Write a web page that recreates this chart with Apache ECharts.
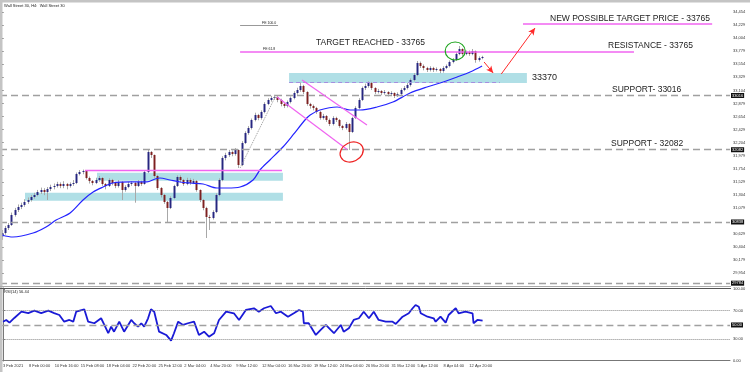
<!DOCTYPE html>
<html><head><meta charset="utf-8">
<script src="https://cdn.jsdelivr.net/npm/echarts@6/dist/echarts.min.js"></script>
<style>html,body{margin:0;padding:0;background:#fff}#c{width:750px;height:372px}</style>
</head><body><div id="c"></div>
<script>
// ---------- DATA ----------
const timeLabels = ["3 Feb 2021","8 Feb 00:00","10 Feb 16:00","15 Feb 08:00","18 Feb 04:00","22 Feb 20:00","25 Feb 12:00","2 Mar 04:00","4 Mar 20:00","9 Mar 12:00","12 Mar 04:00","16 Mar 20:00","19 Mar 12:00","24 Mar 04:00","26 Mar 20:00","31 Mar 12:00","5 Apr 12:00","8 Apr 04:00","12 Apr 20:00"];
// [open, close, low, high]
const candles = [
[30590,30648,30530,30700],[30648,30734,30620,30770],[30734,30786,30700,30820],[30786,30958,30770,31000],
[30958,31044,30930,31080],[31044,31096,31010,31140],[31096,31131,31060,31170],[31131,31182,31100,31230],
[31182,31217,31150,31260],[31217,31268,31190,31300],[31268,31303,31240,31340],[31303,31354,31280,31390],
[31354,31389,31320,31430],[31389,31354,31300,31420],[31354,31406,31217,31440],[31406,31440,31370,31480],
[31440,31458,31400,31500],[31458,31492,31430,31530],[31492,31458,31420,31520],[31458,31492,31420,31540],
[31492,31458,31400,31510],[31458,31492,31430,31520],[31492,31509,31460,31560],[31509,31664,31490,31690],
[31664,31699,31640,31733],[31699,31716,31660,31740],[31716,31595,31570,31730],[31595,31544,31500,31620],
[31544,31509,31470,31560],[31509,31561,31490,31600],[31561,31595,31530,31630],[31595,31492,31460,31610],
[31492,31458,31400,31510],[31458,31561,31440,31590],[31561,31509,31470,31580],[31509,31458,31420,31530],
[31458,31527,31430,31560],[31527,31389,31217,31540],[31389,31440,31360,31470],[31440,31492,31420,31530],
[31492,31509,31460,31540],[31509,31458,31170,31530],[31458,31527,31440,31560],[31527,31492,31460,31550],
[31492,31699,31480,31730],[31699,32043,31680,32078],[32043,31991,31940,32060],[31991,31630,31600,32000],
[31630,31423,31390,31650],[31423,31303,31260,31440],[31303,31182,31150,31320],[31182,31079,30838,31200],
[31079,31251,31060,31280],[31251,31458,31230,31480],[31458,31613,31440,31640],[31613,31561,31520,31640],
[31561,31492,31460,31580],[31492,31561,31470,31600],[31561,31509,31480,31590],[31509,31544,31490,31580],
[31544,31389,31360,31560],[31389,31217,31180,31400],[31217,31079,31040,31230],[31079,30924,30562,31100],
[30924,30907,30700,30960],[30907,31010,30880,31040],[31010,31303,30990,31330],[31303,31561,31280,31590],
[31561,31940,31540,31970],[31940,31991,31900,32030],[31991,32043,31960,32080],[32043,32009,31970,32070],
[32009,32078,31980,32110],[32078,31819,31768,32090],[31819,32198,31800,32230],[32198,32370,32180,32400],
[32370,32456,32340,32490],[32456,32594,32430,32620],[32594,32680,32570,32720],[32680,32629,32590,32700],
[32629,32732,32600,32760],[32732,32870,32710,32900],[32870,32939,32850,32970],[32939,32973,32910,33010],
[32973,32990,32940,33030],[32990,32939,32900,33010],[32939,32870,32830,32960],[32870,32835,32800,32890],
[32835,32904,32810,32930],[32904,32973,32880,33000],[32973,33059,32950,33090],[33059,33111,33030,33150],
[33111,33180,33080,33240],[33180,33076,33040,33200],[33076,32870,32840,33090],[32870,32835,32790,32890],
[32835,32801,32760,32860],[32801,32732,32700,32820],[32732,32629,32600,32750],[32629,32663,32600,32700],
[32663,32594,32560,32680],[32594,32525,32490,32620],[32525,32629,32500,32660],[32629,32594,32560,32650],
[32594,32491,32460,32610],[32491,32456,32420,32510],[32456,32525,32430,32560],[32525,32388,32078,32540],
[32388,32629,32370,32650],[32629,32801,32610,32830],[32801,32939,32780,32970],[32939,33145,32920,33170],
[33145,33180,33110,33220],[33180,33231,33150,33260],[33231,33145,33110,33250],[33145,33076,33040,33160],
[33076,33094,33050,33130],[33094,33059,33020,33110],[33059,33076,33030,33110],[33076,33042,33000,33090],
[33042,33059,33010,33090],[33059,33008,32973,33070],[33008,33042,32990,33070],[33042,33111,33020,33140],
[33111,33145,33090,33180],[33145,33197,33120,33230],[33197,33283,33170,33310],[33283,33369,33260,33400],
[33369,33576,33350,33610],[33576,33524,33490,33600],[33524,33490,33450,33550],[33490,33455,33420,33510],
[33455,33490,33430,33520],[33490,33455,33420,33510],[33455,33472,33430,33500],[33472,33438,33400,33490],
[33438,33490,33410,33520],[33490,33524,33470,33550],[33524,33593,33500,33620],[33593,33627,33570,33660],
[33627,33731,33610,33760],[33731,33817,33710,33868],[33817,33731,33700,33830],[33731,33765,33710,33790],
[33765,33731,33700,33790],[33731,33782,33710,33817],[33782,33627,33580,33790],[33627,33662,33600,33690],
[33662,33679,33640,33700]
];
// moving average: [bar index, price]
const maPoints = [[0,30614],[3.5,30579],[9.7,30648],[13.7,30752],[16.8,30872],[21.1,30993],[25.1,31217],[28.2,31354],[31.3,31440],[34.3,31509],[39.6,31527],[44.8,31527],[47.3,31578],[48.8,31595],[51.9,31561],[55,31527],[58.1,31509],[62.1,31492],[66.4,31423],[69.5,31423],[73.5,31440],[77.5,31561],[79.6,31733],[82.7,31906],[86.7,32129],[89.8,32336],[93.5,32594],[95.1,32680],[98.1,32766],[103.4,32818],[107.4,32766],[110.5,32766],[115.7,32818],[120.6,32904],[125.9,33059],[131.1,33163],[136.1,33248],[140.4,33335],[144.4,33421],[148.1,33524]];
// RSI(14): [bar index, value]
const rsiPoints = [[0,54.6],[1,57],[2,53.2],[3.5,59.8],[5.7,68.6],[7.8,66.7],[9.7,70],[11.8,66.7],[14,70],[15.8,66.7],[17.4,64],[18.9,54.6],[20.5,57],[21.7,54.6],[22.6,68.6],[25.1,72],[26.3,54.6],[28.2,52.4],[30.3,59.4],[31.3,50],[32.5,38.4],[33.4,47.6],[34.3,40.6],[35.9,54.6],[37.4,40.6],[39.6,57],[40.5,52.4],[41.7,47.6],[42.7,52.4],[43.6,47.6],[44.8,59.4],[45.7,72],[46.7,68.6],[48.2,40.6],[50.4,36],[51.9,28],[52.8,38.4],[54.1,54.6],[55.6,50],[57.1,52.4],[59,54.6],[60.5,36],[62.1,40.6],[63.6,33.6],[65.2,38.4],[66.7,57],[68.9,68.6],[71.3,66.4],[72.9,57],[75,71],[77.5,73.4],[79,68.6],[80.6,73.4],[82.7,76.6],[84.3,66.4],[85.8,68.6],[88,61.6],[89.8,66.4],[91.4,71],[92.6,68.6],[92.9,52.4],[94.4,52.4],[96.6,36],[98.1,43],[99.7,50],[101.2,43],[102.2,38.4],[104.3,50],[105.2,40.6],[106.8,45.4],[108.3,57],[109.9,59.4],[111.4,68.6],[113,59.4],[114.5,68.6],[116,57],[118.2,54.6],[120.3,54.6],[121.3,51.4],[123.4,61.6],[125.3,66.4],[126.5,73.4],[127.4,78],[128.4,75.6],[129,66.4],[131.1,61.6],[133,59.4],[133.6,54.6],[135.1,61.6],[136.7,53.2],[137.6,64],[139.8,73.4],[140.7,66.4],[142.8,68.6],[145,66.4],[145.3,52.4],[146.5,57],[148.1,56]];
const priceTicks = [29954,30179,30404,30629,31079,31304,31529,31754,31979,32204,32429,32654,32879,33104,33329,33554,33779,34004,34229,34454];
const rsiTicks = [0,30,70,100];
const supportLevels = [33016,32082,30838,29784];
const rsiLevelsDotted = [70,30];
const rsiLevelMid = 50;
const resistanceLevel = 33765;
const targetLevel = 34247;
const fe100Level = 34230;
const rangeLevel = 31733;
const box33370 = [33404,33231];
const boxUpperLeft = [31687,31549];
const boxLowerLeft = [31342,31205];
const boxMidLine = 33249;

// ---------- CHART ----------
const N = 225;
const cats = Array.from({length:N},(_,i)=> (i%8===0 && timeLabels[i/8]) ? timeLabels[i/8] : '');
const showIdx = (idx,val)=> val !== '';
const FONT = 'Liberation Sans, Arial, sans-serif';
const MAG = '#f064f0';
const AX = 4;
const chart = echarts.init(document.getElementById('c'));

const dashed = {color:'#a0a0a0', type:[7,4], width:1.3};
const hl = f=>({show:true, position:'end', distance:1, formatter:f, backgroundColor:'#111', color:'#fff', fontSize:AX, padding:[1,1,0,1], fontFamily:FONT});
const mlSupport = supportLevels.map(v=>({yAxis:v, lineStyle:dashed, label:hl(String(v))}));
const seg = (a,b,style)=>[{coord:a, lineStyle:style, label:{show:false}},{coord:b}];
const arrow = (a,b)=>[{coord:a, symbol:'none', lineStyle:{color:'#ff2a2a', width:1, type:'solid'}, label:{show:false}},{coord:b, symbol:'arrow', symbolSize:[5,7]}];

const option = {
  animation:false,
  backgroundColor:'#ffffff',
  grid:[{left:0,right:20,top:3,height:281},{left:0,right:20,top:288,height:73}],
  xAxis:[
    {type:'category', gridIndex:0, data:cats, boundaryGap:true, axisLine:{show:false}, axisTick:{show:false}, axisLabel:{show:false}},
    {type:'category', gridIndex:1, data:cats, boundaryGap:true,
      axisLine:{lineStyle:{color:'#777'}},
      axisTick:{interval:showIdx, alignWithLabel:true, length:2, lineStyle:{color:'#777'}},
      axisLabel:{interval:showIdx, fontSize:AX, color:'#333', align:'left', margin:3, fontFamily:FONT}},
    {type:'value', gridIndex:0, min:-0.5, max:N-0.5, show:false},
    {type:'value', gridIndex:1, min:-0.5, max:N-0.5, show:false}
  ],
  yAxis:[
    {type:'value', gridIndex:0, position:'right', min:29770, max:34609, splitLine:{show:false},
      axisLine:{show:true, lineStyle:{color:'#777'}},
      axisTick:{show:true, customValues:priceTicks, length:2, lineStyle:{color:'#777'}},
      axisLabel:{customValues:priceTicks, fontSize:AX, color:'#333', margin:3, fontFamily:FONT}},
    {type:'value', gridIndex:1, position:'right', min:-0.5, max:101.8, splitLine:{show:false},
      axisLine:{show:true, lineStyle:{color:'#777'}},
      axisTick:{show:true, customValues:rsiTicks, length:2, lineStyle:{color:'#777'}},
      axisLabel:{customValues:rsiTicks, formatter:v=>Number(v).toFixed(2), fontSize:AX, color:'#333', margin:3, fontFamily:FONT}}
  ],
  series:[
    {type:'custom', name:'price', xAxisIndex:0, yAxisIndex:0, z:3, clip:true,
      data:candles.map((d,i)=>[i,d[0],d[1],d[2],d[3]]),
      encode:{x:0,y:[1,2,3,4]},
      renderItem:(params,api)=>{
        const i=api.value(0), o=api.value(1), c=api.value(2), l=api.value(3), h=api.value(4);
        const pO=api.coord([i,o]), pC=api.coord([i,c]), pL=api.coord([i,l]), pH=api.coord([i,h]);
        const w=api.size([1,0])[0]*0.6;
        const x=Math.round(pO[0])+0.5;
        const top=Math.min(pO[1],pC[1]);
        return {type:'group', children:[
          {type:'line', shape:{x1:x,y1:pH[1],x2:x,y2:pL[1]}, style:{stroke:'#a8a8a8', lineWidth:1}},
          {type:'rect', shape:{x:x-w/2, y:top, width:w, height:Math.max(1,Math.abs(pO[1]-pC[1]))}, style:{fill: c>=o ? '#262680' : '#7d2020'}}
        ]};
      }},
    {type:'line', name:'MA', xAxisIndex:2, yAxisIndex:0, data:maPoints, showSymbol:false, smooth:0.3,
      lineStyle:{color:'#2424ff', width:1.2}, z:4,
      markArea:{silent:true, itemStyle:{color:'#b0dfe6'}, data:[
        [{coord:[88.6,box33370[0]]},{coord:[161.9,box33370[1]]}],
        [{coord:[29.4,boxUpperLeft[0]]},{coord:[86.7,boxUpperLeft[1]]}],
        [{coord:[7.2,boxLowerLeft[0]]},{coord:[86.7,boxLowerLeft[1]]}]
      ]},
      markLine:{silent:true, symbol:['none','none'], label:{show:false}, data:[
        ...mlSupport,
        seg([73.5,resistanceLevel],[194.9,resistanceLevel],{color:MAG,width:1.6,type:'solid'}),
        seg([160.7,targetLevel],[219,targetLevel],{color:MAG,width:1.6,type:'solid'}),
        seg([25.7,rangeLevel],[86.4,rangeLevel],{color:MAG,width:1.3,type:'solid'}),
        seg([73.5,fe100Level],[85.2,fe100Level],{color:'#999',width:1,type:'solid'}),
        seg([88.6,boxMidLine],[153.6,boxMidLine],{color:'#a58ee0',width:1,type:[4,3]}),
        seg([92.6,33283],[112.6,32508],{color:MAG,width:1.2,type:'solid'}),
        seg([84.9,32990],[106.5,32086],{color:MAG,width:1.2,type:'solid'}),
        seg([73.5,31768],[84.3,32990],{color:'#999',width:1,type:'dotted'}),
        arrow([148.7,33593],[151.5,33404]),
        arrow([154,33386],[164.4,34178])
      ]}},
    {type:'line', name:'RSI', xAxisIndex:3, yAxisIndex:1, data:rsiPoints, showSymbol:false,
      lineStyle:{color:'#1a1ad6', width:1.8}, z:4,
      markLine:{silent:true, symbol:['none','none'], data:[
        ...rsiLevelsDotted.map(v=>({yAxis:v, lineStyle:{color:'#888',type:'dotted',width:1}, label:{show:false}})),
        {yAxis:rsiLevelMid, lineStyle:dashed, label:hl(rsiLevelMid.toFixed(2))}
      ]}}
  ]
};
chart.setOption(option);

const P = (i,p)=>chart.convertToPixel({xAxisIndex:2,yAxisIndex:0},[i,p]);
const txt = (s,x,y,size)=>({type:'text', x:x, y:y, z:50, style:{text:s, fill:'#222', fontSize:size||8.5, fontFamily:FONT, textVerticalAlign:'middle'}});
const gC = P(139.8,33782), rC = P(107.9,32043);
chart.setOption({graphic:[
  {type:'rect', shape:{x:0,y:0,width:750,height:2.5}, style:{fill:'#c4c4c4'}, z:60},
  {type:'rect', shape:{x:0,y:0,width:2.5,height:372}, style:{fill:'#c4c4c4'}, z:60},
  {type:'line', shape:{x1:0,y1:286.5,x2:731,y2:286.5}, style:{stroke:'#aaa',lineWidth:1}, z:60},
  {type:'line', shape:{x1:0,y1:288.5,x2:731,y2:288.5}, style:{stroke:'#555',lineWidth:1}, z:60},
  txt('Wall Street 30, H4:  Wall Street 30', 4, 6, 4),
  txt('RSI(14) 56.44', 4, 292, 4),
  txt('FE 100.0', 262, 23, 3.5),
  txt('FE 61.8', 263, 49, 3.5),
  txt('TARGET REACHED - 33765', 316, 43),
  txt('NEW POSSIBLE TARGET PRICE - 33765', 550, 19),
  txt('RESISTANCE - 33765', 608, 46),
  txt('33370', 532, 78, 9),
  txt('SUPPORT- 33016', 612, 90),
  txt('SUPPORT - 32082', 611, 144),
  {type:'ellipse', shape:{cx:gC[0],cy:gC[1],rx:10,ry:9}, style:{fill:null,stroke:'#1fa51f',lineWidth:1.2}, z:55},
  {type:'ellipse', shape:{cx:0,cy:0,rx:12,ry:9.5}, x:rC[0], y:rC[1], rotation:0.45, style:{fill:null,stroke:'#ee2222',lineWidth:1.2}, z:55}
]});
</script></body></html>
